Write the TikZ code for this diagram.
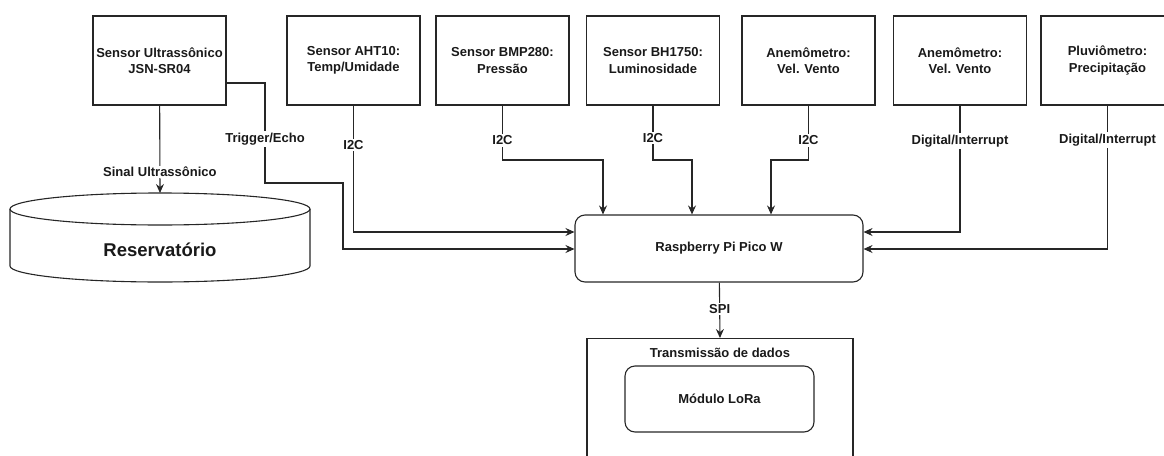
\documentclass[tikz,border=0pt]{standalone}
\usepackage{fontspec}
\setmainfont{Liberation Sans}
\usetikzlibrary{arrows.meta}

\begin{document}
\begin{tikzpicture}[x=1pt,y=-1pt,
    line/.style={line width=1.1pt, draw=black!85},
    link/.style={line, -{Stealth[length=9pt,width=8pt,inset=3pt]}},
    txt/.style={font=\fontsize{13}{16.5}\selectfont\bfseries, text=black!90},
    sensor/.style={line, txt, align=center, minimum width=133pt, minimum height=89pt},
    board/.style={line, txt, rounded corners=10pt, minimum width=288pt, minimum height=67pt},
    lbl/.style={txt, fill=white, inner sep=1.5pt}]
  \useasboundingbox (0,0) rectangle (1164,455);
  \clip (0,0) rectangle (1164,455);
  % sensores
  \node[sensor] (s1) at (159.5,60.5) {Sensor Ultrassônico\\JSN-SR04};
  \node[sensor] (s2) at (353.5,60.5) {Sensor AHT10:\\Temp/Umidade};
  \node[sensor] (s3) at (502.5,60.5) {Sensor BMP280:\\Pressão};
  \node[sensor] (s4) at (653,60.5) {Sensor BH1750:\\Luminosidade};
  \node[sensor] (s5) at (808.5,60.5) {Anemômetro:\\Vel. Vento};
  \node[sensor] (s6) at (960,60.5) {Anemômetro:\\Vel. Vento};
  \node[sensor] (s7) at (1107.5,60.5) {Pluviômetro:\\Precipitação};
  % reservatorio
  \draw[line] (160,209) ellipse[x radius=150, y radius=16];
  \draw[line] (10,209) -- (10,266) arc[start angle=180, end angle=0, x radius=150, y radius=16] -- (310,209);
  \coordinate (tanktop) at (160,193);
  \node[txt, font=\fontsize{18.5}{22}\selectfont\bfseries] (tank) at (160,250) {Reservatório};
  % placa e transmissao
  \node[board] (pico) at (719,248.5) {Raspberry Pi Pico W};
  \node[line, anchor=north, minimum width=266pt, minimum height=140pt] (trans) at (720,338) {};
  \node[txt] (transt) at (720,353) {Transmissão de dados};
  \node[board, minimum width=189pt, minimum height=66pt] (lora) at (719.5,399) {Módulo LoRa};
  % ligacoes
  \draw[link] (s1) -- node[lbl, pos=0.76] {Sinal Ultrassônico} (tanktop);
  \draw[link] (s1.east |- 0,83) -- (265,83) -- node[lbl, pos=0.56] {Trigger/Echo} (265,183) -- (343,183) -- (343,249) -- (pico.west |- 0,249);
  \draw[link] (s2) -- node[lbl, pos=0.31] {I2C} (353.5,232) -- (pico.west |- 0,232);
  \draw[link] (s3) -- node[lbl, pos=0.64] {I2C} (502.5,160) -- (603,160) -- (603,0 |- pico.north);
  \draw[link] (s4) -- node[lbl, pos=0.6] {I2C} (653,160) -- (692,160) -- (692,0 |- pico.north);
  \draw[link] (s5) -- node[lbl, pos=0.64] {I2C} (808.5,160) -- (771,160) -- (771,0 |- pico.north);
  \draw[link] (s6) -- node[lbl, pos=0.28] {Digital/Interrupt} (960,232) -- (pico.east |- 0,232);
  \draw[link] (s7) -- node[lbl, pos=0.24] {Digital/Interrupt} (1107.5,249) -- (pico.east |- 0,249);
  \draw[link] (pico) -- node[lbl, pos=0.48] {SPI} (720,0 |- trans.north);
\end{tikzpicture}
\end{document}
